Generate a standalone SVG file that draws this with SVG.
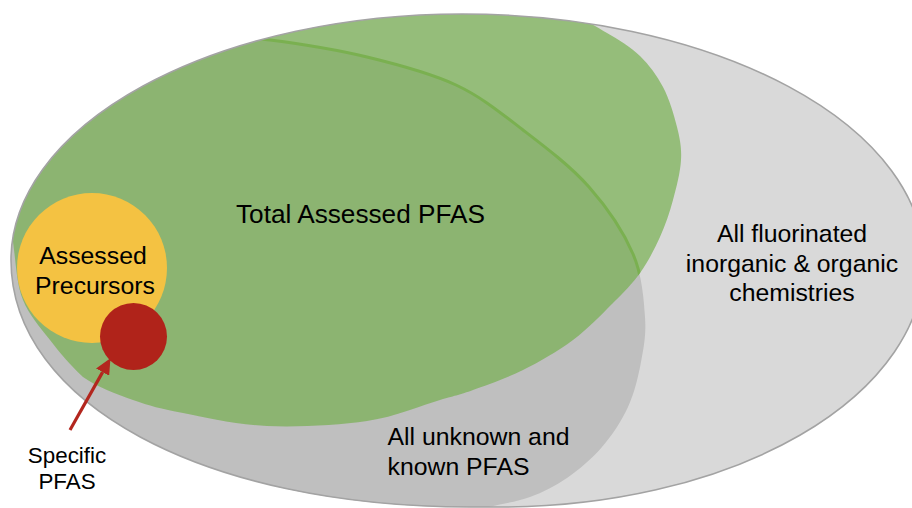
<svg xmlns="http://www.w3.org/2000/svg" width="912" height="508" viewBox="0 0 912 508">
  <style>
    .lbl { font-family: "Liberation Sans", Arial, Helvetica, sans-serif; fill: #000; }
    .big { font-size: 26.2px; }
    .mid { font-size: 24.8px; }
    .sml { font-size: 22.4px; }
  </style>
  <defs>
    <path id="outerShape" d="M 11,260 A 451 246 0 0 1 462,14 A 462 248 0 0 1 924,262 A 424 245 0 0 1 500,507 L 470,507 C 203.8,507 11,403.3 11,260 Z"/>
    <path id="greenShape" d="M 500,10 C 524.3,12.7 555.2,14.2 573,18 C 590.8,21.8 595.8,26.7 607,33 C 618.2,39.3 630.7,47 640,56 C 649.3,65 656.8,75.2 663,87 C 669.2,98.8 674,114.8 677,127 C 680,139.2 681.7,147.8 681,160 C 680.3,172.2 676.5,187.2 673,200 C 669.5,212.8 665.5,224.8 660,237 C 654.5,249.2 647.8,262 640,273 C 632.2,284 624.2,291.8 613,303 C 601.8,314.2 588,328.8 573,340 C 558,351.2 539.7,361.7 523,370 C 506.3,378.3 486.8,385 473,390 C 459.2,395 457.7,394.8 440,400 C 422.3,405.2 395.8,416.7 367,421 C 338.2,425.3 297.7,427.3 267,426 C 236.3,424.7 205.3,417.3 183,413 C 160.7,408.7 149.7,406 133,400 C 116.3,394 96.8,387 83,377 C 69.2,364.2 60,352.8 50,340 C 40,327.2 29,315 23,300 C 17,285 16.2,266.7 14,250 C 11.8,233.3 11.3,216.7 10,200 L 0,200 L 0,0 L 500,0 Z"/>
    <clipPath id="clipOuter">
      <use href="#outerShape"/>
    </clipPath>
    <clipPath id="clipGreen">
      <use href="#greenShape"/>
    </clipPath>
    <marker id="arrowHead" viewBox="0 0 16 15" refX="0" refY="7.5" markerWidth="16" markerHeight="15" markerUnits="userSpaceOnUse" orient="auto">
      <path d="M0,0 L16,7.5 L0,15 Z" fill="#B3261E"/>
    </marker>
  </defs>

  <g id="all-fluorinated">
    <use href="#outerShape" fill="#D9D9D9"/>
  </g>

  <g id="all-pfas" clip-path="url(#clipOuter)">
    <path d="M 180,33 C 210,35.3 238.8,36 270,40 C 301.2,44 336,49.5 367,57 C 398,64.5 430,72.8 456,85 C 482,97.2 500.8,113 523,130 C 545.2,147 570.7,166.3 589,187 C 607.3,207.7 623.7,232.3 633,254 C 642.3,275.7 643.7,299 645,317 C 646.3,335 643.8,347 641,362 C 638.2,377 634.5,392.8 628,407 C 621.5,421.2 612.2,435.2 602,447 C 591.8,458.8 579,469.7 567,478 C 555,486.3 543,492.2 530,497 C 517,501.8 504,503.2 489,507 C 474,510.8 455,517 440,520 L 0,520 L 0,0 L 180,0 Z" fill="#BFBFBF"/>
  </g>

  <g id="total-assessed" clip-path="url(#clipOuter)">
    <use href="#greenShape" fill="#70AD47" fill-opacity="0.65"/>
    <g clip-path="url(#clipGreen)">
      <path d="M 250,37 C 256,38 263,39 270,40 C 301.2,44 336,49.5 367,57 C 398,64.5 430,72.8 456,85 C 482,97.2 500.8,113 523,130 C 545.2,147 570.7,166.3 589,187 C 607.3,207.7 623.7,232.3 633,254 C 642.3,275.7 643.7,299 645,317" fill="none" stroke="#7AB050" stroke-width="3"/>
    </g>
  </g>

  <g id="outer-border">
    <use href="#outerShape" fill="none" stroke="#A3A3A3" stroke-width="1.6"/>
  </g>

  <g id="assessed-precursors">
    <circle cx="92" cy="268" r="75" fill="#F4C242"/>
    <text class="lbl mid" x="93" y="263.5" text-anchor="middle">Assessed</text>
    <text class="lbl mid" x="95" y="293.5" text-anchor="middle">Precursors</text>
  </g>

  <g id="specific-pfas">
    <circle cx="133.5" cy="336.5" r="33.5" fill="#B0231A"/>
    <text class="lbl sml" x="67" y="462.5" text-anchor="middle">Specific</text>
    <text class="lbl sml" x="67" y="488.5" text-anchor="middle">PFAS</text>
  </g>

  <g id="labels">
    <text class="lbl big" x="360.5" y="222.5" text-anchor="middle">Total Assessed PFAS</text>
    <text class="lbl mid" x="792" y="241.5" text-anchor="middle">All fluorinated</text>
    <text class="lbl mid" x="792" y="271.5" text-anchor="middle">inorganic &amp; organic</text>
    <text class="lbl mid" x="792" y="301" text-anchor="middle">chemistries</text>
    <text class="lbl mid" x="387.5" y="445">All unknown and</text>
    <text class="lbl mid" x="387.5" y="475">known PFAS</text>
  </g>

  <g id="connectors">
    <line x1="70" y1="430" x2="102.6" y2="372.1" stroke="#B3261E" stroke-width="3.2" marker-end="url(#arrowHead)"/>
  </g>
</svg>
